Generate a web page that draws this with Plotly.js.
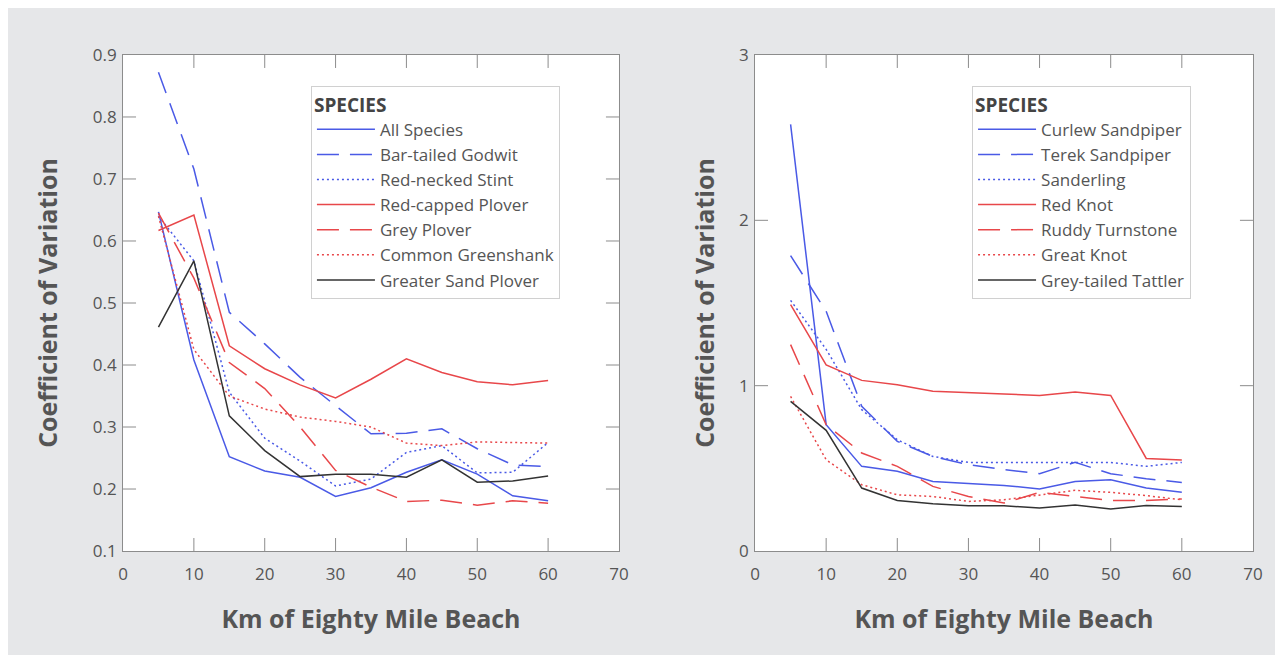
<!DOCTYPE html>
<html>
<head>
<meta charset="utf-8">
<script src="https://cdn.plot.ly/plotly-3.0.1.min.js"></script>
<style>
html,body{margin:0;padding:0;background:#ffffff;}
#chart{position:absolute;left:8px;top:8px;width:1267px;height:647px;}
</style>
</head>
<body>
<div id="chart"></div>
<script>
// Distance along beach (km)
const km = [5,10,15,20,25,30,35,40,45,50,55,60];

// Left panel series
const leftNames = ["All Species","Bar-tailed Godwit","Red-necked Stint","Red-capped Plover","Grey Plover","Common Greenshank","Greater Sand Plover"];
const allSpecies       = [0.647,0.408,0.252,0.229,0.219,0.188,0.202,0.227,0.247,0.224,0.189,0.181];
const barTailedGodwit  = [0.872,0.716,0.485,0.434,0.380,0.334,0.289,0.290,0.297,0.265,0.239,0.236];
const redNeckedStint   = [0.640,0.568,0.356,0.282,0.245,0.205,0.216,0.259,0.270,0.226,0.227,0.275];
const redCappedPlover  = [0.617,0.642,0.431,0.394,0.368,0.347,0.377,0.410,0.388,0.373,0.368,0.375];
const greyPlover       = [0.645,0.540,0.404,0.362,0.300,0.230,0.203,0.180,0.182,0.174,0.181,0.177];
const commonGreenshank = [0.640,0.425,0.350,0.329,0.316,0.309,0.300,0.274,0.270,0.276,0.275,0.274];
const greaterSandPlover= [0.461,0.568,0.318,0.262,0.220,0.224,0.224,0.219,0.247,0.211,0.213,0.221];

// Right panel series
const rightNames = ["Curlew Sandpiper","Terek Sandpiper","Sanderling","Red Knot","Ruddy Turnstone","Great Knot","Grey-tailed Tattler"];
const curlewSandpiper  = [2.580,0.764,0.512,0.482,0.421,0.411,0.397,0.375,0.421,0.431,0.381,0.355];
const terekSandpiper   = [1.786,1.450,0.875,0.663,0.572,0.522,0.492,0.468,0.536,0.468,0.437,0.415];
const sanderling       = [1.516,1.220,0.855,0.673,0.572,0.536,0.536,0.536,0.536,0.536,0.512,0.536];
const redKnot          = [1.490,1.125,1.032,1.006,0.966,0.956,0.950,0.941,0.962,0.941,0.560,0.550];
const ruddyTurnstone   = [1.248,0.764,0.593,0.512,0.391,0.330,0.290,0.355,0.330,0.306,0.306,0.315];
const greatKnot        = [0.935,0.552,0.401,0.340,0.330,0.300,0.310,0.340,0.367,0.355,0.335,0.310];
const greyTailedTattler= [0.905,0.730,0.381,0.306,0.286,0.274,0.274,0.260,0.278,0.254,0.276,0.270];

// Axis ticks
const xTicks = [0,10,20,30,40,50,60,70];
const leftYTicks = [0.1,0.2,0.3,0.4,0.5,0.6,0.7,0.8,0.9];
const rightYTicks = [0,1,2,3];

const BLUE = '#4a5ae6', RED = '#e8474a', BLACK = '#333333';
const DASH = '22px,11px', DOT = '2px,3px';
const styles = [
  {color: BLUE, dash: 'solid'},
  {color: BLUE, dash: DASH},
  {color: BLUE, dash: DOT},
  {color: RED, dash: 'solid'},
  {color: RED, dash: DASH},
  {color: RED, dash: DOT},
  {color: BLACK, dash: 'solid'}
];

const leftData = [allSpecies,barTailedGodwit,redNeckedStint,redCappedPlover,greyPlover,commonGreenshank,greaterSandPlover];
const rightData = [curlewSandpiper,terekSandpiper,sanderling,redKnot,ruddyTurnstone,greatKnot,greyTailedTattler];

const traces = [];
leftData.forEach((ys,i) => traces.push({
  x: km, y: ys, name: leftNames[i], type: 'scatter', mode: 'lines',
  line: {color: styles[i].color, dash: styles[i].dash, width: 1.5},
  xaxis: 'x', yaxis: 'y', legend: 'legend'
}));
rightData.forEach((ys,i) => traces.push({
  x: km, y: ys, name: rightNames[i], type: 'scatter', mode: 'lines',
  line: {color: styles[i].color, dash: styles[i].dash, width: 1.5},
  xaxis: 'x2', yaxis: 'y2', legend: 'legend2'
}));

const FONT = 'Open Sans, sans-serif';
const TXT = '#555555';
const FRAME = '#8c8c8c';
const TICKLEN = 13;

function xAxis(domain, anchor){
  return {
    domain: domain, anchor: anchor, range: [0,70], tickvals: xTicks,
    ticks: '', showline: true, linecolor: FRAME, mirror: true,
    showgrid: false, zeroline: false, ticklabelstandoff: 8,
    tickfont: {family: FONT, size: 17, color: TXT},
    title: {text: 'Km of Eighty Mile Beach', font: {family: FONT, size: 25, color: TXT, weight: 'bold'}, standoff: 26}
  };
}
function yAxis(domain, anchor, range, ticks, standoff){
  return {
    domain: domain, anchor: anchor, range: range, tickvals: ticks,
    ticks: '', showline: true, linecolor: FRAME, mirror: true,
    showgrid: false, zeroline: false, ticklabelstandoff: 2,
    tickfont: {family: FONT, size: 17, color: TXT},
    title: {text: 'Coefficient of Variation', font: {family: FONT, size: 25, color: TXT, weight: 'bold'}, standoff: standoff}
  };
}

// Inside tick marks (all four sides), placed through the axes' own scales
function tickShapes(xa, ya, xvals, yvals, xr, yr){
  const out = [];
  const L = {color: FRAME, width: 1};
  xvals.filter(v => v > xr[0] && v < xr[1]).forEach(v => {
    out.push({type:'line', xref: xa, yref: ya + ' domain', x0: v, x1: v, ysizemode: 'pixel', yanchor: 0, y0: 0, y1: TICKLEN, line: L, layer: 'above'});
    out.push({type:'line', xref: xa, yref: ya + ' domain', x0: v, x1: v, ysizemode: 'pixel', yanchor: 1, y0: 0, y1: -TICKLEN, line: L, layer: 'above'});
  });
  yvals.filter(v => v > yr[0] && v < yr[1]).forEach(v => {
    out.push({type:'line', xref: xa + ' domain', yref: ya, y0: v, y1: v, xsizemode: 'pixel', xanchor: 0, x0: 0, x1: TICKLEN, line: L, layer: 'above'});
    out.push({type:'line', xref: xa + ' domain', yref: ya, y0: v, y1: v, xsizemode: 'pixel', xanchor: 1, x0: 0, x1: -TICKLEN, line: L, layer: 'above'});
  });
  return out;
}

function legendBox(x){
  return {
    x: x, y: 0.8794, xanchor: 'left', yanchor: 'top',
    bgcolor: '#ffffff', bordercolor: '#d0d0d0', borderwidth: 1,
    font: {family: FONT, size: 17, color: TXT},
    title: {text: 'SPECIES', font: {family: FONT, size: 19, color: '#444444', weight: 'bold'}},
    itemwidth: 58, itemclick: false, itemdoubleclick: false
  };
}

const layout = {
  width: 1267, height: 647,
  margin: {l: 0, r: 0, t: 0, b: 0},
  paper_bgcolor: '#e6e7e9', plot_bgcolor: '#ffffff',
  showlegend: true,
  xaxis: xAxis([0.0908, 0.4822], 'y'),
  yaxis: yAxis([0.1607, 0.9274], 'x', [0.1, 0.9], leftYTicks, 27),
  xaxis2: xAxis([0.5896, 0.9826], 'y2'),
  yaxis2: yAxis([0.1607, 0.9274], 'x2', [0, 3], rightYTicks, 17),
  legend: legendBox(0.2391),
  legend2: legendBox(0.7609),
  shapes: tickShapes('x', 'y', xTicks, leftYTicks, [0,70], [0.1,0.9])
            .concat(tickShapes('x2', 'y2', xTicks, rightYTicks, [0,70], [0,3]))
};

Plotly.newPlot('chart', traces, layout, {staticPlot: true, displayModeBar: false});
</script>
</body>
</html>
